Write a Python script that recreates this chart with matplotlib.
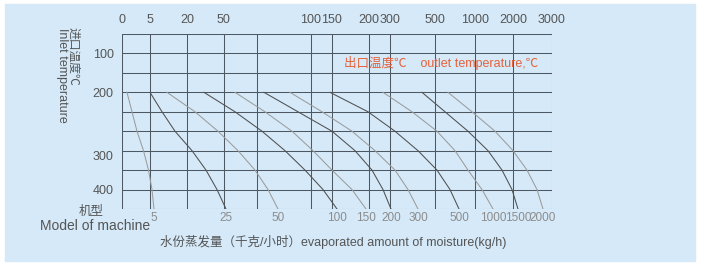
import matplotlib.pyplot as plt
from matplotlib.patches import Rectangle

plt.rcParams['font.family'] = ['Liberation Sans', 'Noto Sans CJK SC', 'DejaVu Sans']

# top scale (grid columns), positions in chart units 0..430
col_pos = [0, 28.3, 65, 101.6, 135, 189, 210, 246.6, 268.3, 312.6, 352.6, 391, 430]
top_labels = ["0", "5", "20", "50", "", "100", "150", "200", "300", "500", "1000", "2000", "3000"]

# inlet temperature rows (0 = top of grid, 9 = bottom)
n_rows = 9
temp_rows = [1, 3, 6.25, 8]
temp_labels = ["100", "200", "300", "400"]

# curves: x position read at rows 3..9
curve_rows = [3, 4, 5, 6, 7, 8, 9]
c5 = [5, 10, 15, 21.5, 26.5, 30, 32]
c25 = [28, 40, 53, 70, 84, 95, 104]
c50 = [45, 73, 96, 116, 133, 146, 156]
c100 = [82, 113, 140, 163, 183, 201, 215]
c150 = [113, 143, 170, 191, 210, 230, 244]
c200 = [142, 176, 210, 233, 250, 261, 269]
c300 = [168, 200, 230, 253, 273, 286, 296]
c500 = [208, 246, 273, 296, 315, 328, 337]
c1000 = [261, 290, 315, 333, 346, 360, 371]
c1500 = [300, 323, 346, 366, 380, 390, 396]
c2000 = [326, 350, 373, 391, 405, 415, 421]
curves = [c5, c25, c50, c100, c150, c200, c300, c500, c1000, c1500, c2000]
model_labels = ["5", "25", "50", "100", "150", "200", "300", "500", "1000", "1500", "2000"]

fig = plt.figure(figsize=(7.01, 2.67), dpi=100)
fig.patches.append(Rectangle((5 / 701, 6 / 267), 690 / 701, 257 / 267,
                             transform=fig.transFigure, color='#d5e9f8', zorder=-10))

ax = fig.add_axes([122 / 701, 1 - 209 / 267, 430 / 701, 175 / 267])
ax.set_facecolor('none')
ax.set_xlim(0, 430)
ax.set_ylim(n_rows, 0)

grid_c = '#4e5862'
for x in col_pos:
    ax.axvline(x, color=grid_c, lw=0.75)
for r in range(n_rows + 1):
    ax.axhline(r, color=grid_c, lw=0.75)
for s in ax.spines.values():
    s.set_visible(False)

for i, c in enumerate(curves):
    ax.plot(c, curve_rows, color='#505050' if i % 2 else '#9c9c9c', lw=0.75)

ax.xaxis.tick_top()
ax.set_xticks(col_pos)
ax.set_xticklabels(top_labels, fontsize=9, color='#555555')
ax.tick_params(axis='x', length=0, pad=6)

ax.set_yticks(temp_rows)
ax.set_yticklabels(temp_labels, fontsize=9, color='#555555')
ax.tick_params(axis='y', length=0, pad=6)

bx = ax.secondary_xaxis('bottom')
bx.set_xticks([c[-1] for c in curves])
bx.set_xticklabels(model_labels, fontsize=8.5, color='#8c8c8c')
bx.tick_params(length=0, pad=2)
for s in bx.spines.values():
    s.set_visible(False)

fig.text(538 / 701, 1 - 63 / 267, "出口温度℃    outlet temperature,℃", fontsize=9,
         color='#e5623a', ha='right', va='center')
fig.text(73 / 701, 1 - 56 / 267, "进口温度℃", fontsize=8.5, color='#555555',
         rotation=-90, ha='center', va='center')
fig.text(62 / 701, 1 - 75 / 267, "Inlet temperature", fontsize=9, color='#555555',
         rotation=-90, ha='center', va='center')
fig.text(91 / 701, 1 - 212 / 267, "机型", fontsize=9, color='#555555', ha='center', va='center')
fig.text(150 / 701, 1 - 226 / 267, "Model of machine", fontsize=10, color='#555555',
         ha='right', va='center')
fig.text(160 / 701, 1 - 242 / 267, "水份蒸发量（千克/小时）evaporated amount of moisture(kg/h)",
         fontsize=9, color='#555555', ha='left', va='center')

fig.savefig('out.png', dpi=100, facecolor='white')
